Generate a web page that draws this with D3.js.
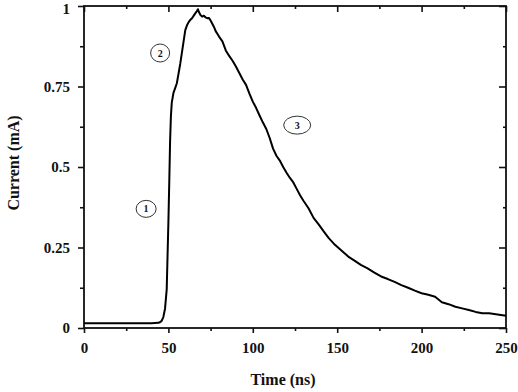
<!DOCTYPE html>
<html>
<head>
<meta charset="utf-8">
<script src="https://cdn.jsdelivr.net/npm/d3@7"></script>
<style>
  body { margin: 0; background: #fff; }
  svg text { font-family: "Liberation Serif", "Times New Roman", serif; font-weight: bold; fill: #111; }
</style>
</head>
<body>
<div id="chart"></div>
<script>
// pulse current vs time
var timeNs = [0, 10, 20, 30, 40, 44, 45, 46, 47, 48, 49, 50, 50.5, 51, 51.5, 52, 53, 54, 55, 56,
  57, 58, 59, 60, 61, 62, 63, 64, 65, 66, 67, 67.5, 68, 69, 70, 71, 72, 73, 74, 75,
  76, 77, 78, 79, 80, 82, 84, 86, 88, 90, 92, 94, 96, 98, 100, 102, 104, 106, 108, 110,
  112, 114, 116, 118, 120, 122, 124, 126, 128, 130, 133, 136, 139, 142, 145, 148, 151, 154, 157, 160,
  164, 168, 172, 176, 180, 184, 188, 192, 196, 200, 204, 208, 212, 216, 220, 224, 228, 232, 236, 240,
  245, 250];
var currentMA = [0.015, 0.015, 0.015, 0.015, 0.015, 0.016, 0.018, 0.022, 0.034, 0.06, 0.12, 0.33, 0.45, 0.58, 0.66, 0.70, 0.73, 0.745, 0.76, 0.79,
  0.82, 0.855, 0.89, 0.925, 0.94, 0.95, 0.957, 0.962, 0.97, 0.978, 0.985, 0.99, 0.982, 0.972, 0.967, 0.97, 0.965, 0.962, 0.963, 0.955,
  0.945, 0.935, 0.922, 0.914, 0.905, 0.89, 0.862, 0.845, 0.83, 0.812, 0.792, 0.772, 0.755, 0.728, 0.703, 0.683, 0.66, 0.638, 0.618, 0.59,
  0.557, 0.535, 0.52, 0.5, 0.482, 0.466, 0.452, 0.432, 0.412, 0.395, 0.372, 0.342, 0.322, 0.3, 0.279, 0.262, 0.248, 0.234, 0.22, 0.21,
  0.196, 0.185, 0.172, 0.16, 0.152, 0.143, 0.133, 0.125, 0.116, 0.108, 0.103, 0.097, 0.08, 0.074, 0.066, 0.061, 0.056, 0.05, 0.046, 0.046,
  0.042, 0.038];

var xTicks = [0, 50, 100, 150, 200, 250];
var xMinor = [25, 75, 125, 175, 225];
var yTicks = [0, 0.25, 0.5, 0.75, 1];
var yTickLabels = ["0", "0.25", "0.5", "0.75", "1"];
var yMinor = [0.125, 0.375, 0.625, 0.875];

// numbered region markers
var markLabels = ["1", "2", "3"];
var markTime = [36.8, 45.1, 126.3];
var markCurrent = [0.37, 0.854, 0.63];

var W = 518, H = 392;
var margin = {top: 6, right: 12, bottom: 64, left: 84};

var svg = d3.select("#chart").append("svg")
    .attr("width", W)
    .attr("height", H);

var xScale = d3.scaleLinear().domain([0, 250]).range([margin.left, W - margin.right]);
var yScale = d3.scaleLinear().domain([0, 1]).range([H - margin.bottom, margin.top]);

// minor + major ticks, all four sides
function ticks(axis, pos) {
  var g = svg.append("g").attr("transform", pos).call(axis);
  g.select(".domain").remove();
  g.selectAll("line").attr("stroke", "#111").attr("stroke-width", 1.6);
  return g;
}

// bottom (outward)
ticks(d3.axisBottom(xScale).tickValues(xMinor).tickSize(3).tickFormat(""), "translate(0," + yScale(0) + ")");
var xb = ticks(d3.axisBottom(xScale).tickValues(xTicks).tickSize(5).tickPadding(9), "translate(0," + yScale(0) + ")");
xb.selectAll("text").attr("font-size", 15);

// top (inward)
ticks(d3.axisBottom(xScale).tickValues(xMinor).tickSize(3).tickFormat(""), "translate(0," + yScale(1) + ")");
ticks(d3.axisBottom(xScale).tickValues(xTicks).tickSize(6).tickFormat(""), "translate(0," + yScale(1) + ")");

// left (outward)
ticks(d3.axisLeft(yScale).tickValues(yMinor).tickSize(4).tickFormat(""), "translate(" + xScale(0) + ",0)");
var yl = ticks(d3.axisLeft(yScale).tickValues(yTicks).tickSize(6).tickPadding(8)
    .tickFormat(function(d, i) { return yTickLabels[i]; }), "translate(" + xScale(0) + ",0)");
yl.selectAll("text").attr("font-size", 15);
// keep the top label inside the page
yl.selectAll("text").filter(function(d) { return d === 1; }).attr("dy", "0.5em");

// right (inward)
ticks(d3.axisLeft(yScale).tickValues(yMinor).tickSize(3).tickFormat(""), "translate(" + xScale(250) + ",0)");
ticks(d3.axisLeft(yScale).tickValues(yTicks).tickSize(7).tickFormat(""), "translate(" + xScale(250) + ",0)");

// frame
svg.append("rect")
    .attr("x", xScale(0))
    .attr("y", yScale(1))
    .attr("width", xScale(250) - xScale(0))
    .attr("height", yScale(0) - yScale(1))
    .attr("fill", "none")
    .attr("stroke", "#111")
    .attr("stroke-width", 1.8);

// curve
var pts = timeNs.map(function(t, i) { return [t, currentMA[i]]; });
var line = d3.line()
    .x(function(d) { return xScale(d[0]); })
    .y(function(d) { return yScale(d[1]); });

svg.append("path")
    .datum(pts)
    .attr("d", line)
    .attr("fill", "none")
    .attr("stroke", "#000")
    .attr("stroke-width", 2)
    .attr("stroke-linejoin", "round");

// region markers
var rx = [10, 9.5, 13.5], ry = [8.5, 9, 9];
markLabels.forEach(function(lab, i) {
  var cx = xScale(markTime[i]), cy = yScale(markCurrent[i]);
  svg.append("ellipse")
      .attr("cx", cx).attr("cy", cy)
      .attr("rx", rx[i]).attr("ry", ry[i])
      .attr("fill", "none")
      .attr("stroke", "#333")
      .attr("stroke-width", 1);
  svg.append("text")
      .attr("x", cx).attr("y", cy)
      .attr("dy", "0.35em")
      .attr("text-anchor", "middle")
      .attr("font-size", 10)
      .text(lab);
});

// axis titles
svg.append("text")
    .attr("x", 283)
    .attr("y", 385)
    .attr("text-anchor", "middle")
    .attr("font-size", 16)
    .text("Time (ns)");

svg.append("text")
    .attr("transform", "translate(19,163) rotate(-90)")
    .attr("text-anchor", "middle")
    .attr("font-size", 16)
    .text("Current (mA)");
</script>
</body>
</html>
